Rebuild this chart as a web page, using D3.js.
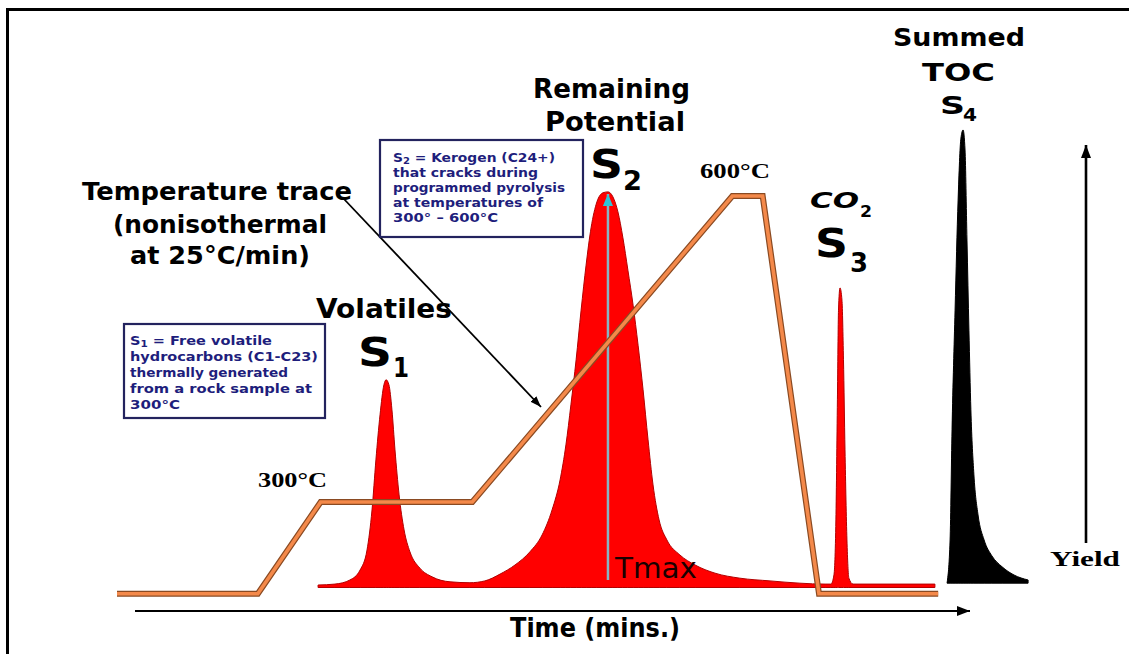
<!DOCTYPE html>
<html>
<head>
<meta charset="utf-8">
<script src="https://cdn.jsdelivr.net/npm/d3@7"></script>
<style>
  body { margin: 0; background: #fff; }
  svg { display: block; }
</style>
</head>
<body>
<svg id="chart" width="1129" height="654"></svg>
<script>
// Rock-Eval pyrolysis: oven programme (time in min, temperature in °C)
const tempTrace = [
  [0, 210], [6.5, 210], [9.4, 300], [16.4, 300],
  [28.4, 600], [29.8, 600], [32.4, 210], [37.9, 210]
];

// Detector response (relative yield) against time (min)
const s1Trace = [
  [9.28, 0.0], [10.06, 0.2], [10.75, 1.1], [11.22, 3.3], [11.54, 7.7],
  [11.77, 16.5], [11.95, 27.5], [12.14, 37.4], [12.32, 44.0], [12.42, 45.1],
  [12.55, 44.0], [12.69, 38.5], [12.83, 29.7], [13.02, 19.8], [13.25, 12.1],
  [13.52, 7.3], [13.98, 3.7], [14.54, 1.8], [15.37, 0.7], [16.29, 0.5]
];
const s2Trace = [
  [16.98, 0.9], [17.68, 2.4], [18.37, 4.4], [19.06, 7.3], [19.62, 11.0],
  [20.08, 16.5], [20.45, 23.1], [20.72, 30.8], [20.95, 39.6], [21.19, 49.5],
  [21.42, 60.4], [21.65, 70.3], [21.88, 78.5], [22.15, 84.2], [22.43, 86.2],
  [22.66, 86.4], [22.89, 85.3], [23.12, 82.0], [23.35, 76.3], [23.58, 69.2],
  [23.82, 61.5], [24.05, 52.7], [24.28, 42.9], [24.51, 31.9], [24.74, 22.0],
  [25.02, 14.3], [25.38, 9.9], [25.98, 6.6], [26.68, 4.4], [27.60, 2.6],
  [28.75, 1.5], [30.14, 0.9], [31.52, 0.4], [32.68, 0.2]
];
const s3Trace = [
  [32.95, 0.2], [33.09, 2.2], [33.18, 14.3], [33.25, 40.7], [33.30, 60.4],
  [33.37, 65.3], [33.46, 62.6], [33.53, 49.5], [33.60, 29.7], [33.69, 9.9],
  [33.78, 1.5], [33.97, 0.2], [37.75, 0.2]
];
const s4Trace = [
  [38.31, 0.4], [38.45, 9.9], [38.54, 34.1], [38.68, 60.4], [38.82, 84.6],
  [38.95, 98.2], [39.05, 100], [39.14, 95.6], [39.23, 75.8], [39.32, 56.0],
  [39.41, 38.5], [39.55, 24.2], [39.74, 15.4], [40.02, 9.9], [40.38, 6.4],
  [40.85, 4.0], [41.40, 2.2], [42.05, 1.1]
];
const tmaxTime = 22.66;
const tmaxYield = 86.4;

// Text blocks
const tempLabel = ["Temperature trace", "(nonisothermal", "at 25°C/min)"];
const s1Note = [["S", "1", " = Free volatile"], ["hydrocarbons (C1-C23)"], ["thermally generated"], ["from a rock sample at"], ["300°C"]];
const s2Note = [["S", "2", " = Kerogen (C24+)"], ["that cracks during"], ["programmed pyrolysis"], ["at temperatures of"], ["300° – 600°C"]];
const tempMarks = ["300°C", "600°C"];

const SANS = "'DejaVu Sans', 'Noto Sans', sans-serif";
const SERIF = "'Liberation Serif', 'DejaVu Serif', serif";

const svg = d3.select("#chart");

// Scales: shared time axis, temperature axis, yield axis
const x = d3.scaleLinear().domain([0, 42]).range([117, 1027]);
const yT = d3.scaleLinear().domain([300, 600]).range([502, 196]);
const yY = d3.scaleLinear().domain([0, 100]).range([585, 130]);

// Arrow markers
const defs = svg.append("defs");
function marker(id, color, w, h) {
  defs.append("marker")
    .attr("id", id).attr("viewBox", `0 0 ${w} ${h}`)
    .attr("refX", w).attr("refY", h / 2)
    .attr("markerUnits", "userSpaceOnUse")
    .attr("markerWidth", w).attr("markerHeight", h)
    .attr("orient", "auto")
    .append("path").attr("d", `M0,0L${w},${h / 2}L0,${h}Z`).attr("fill", color);
}
marker("arrowAxis", "#000", 13, 10);
marker("arrowThin", "#000", 11, 8);
marker("arrowCyan", "#2fc4d6", 12, 10);

// Frame
svg.append("rect").attr("x", 7.5).attr("y", 9.5).attr("width", 1200).attr("height", 700)
  .attr("fill", "none").attr("stroke", "#000").attr("stroke-width", 3);

// Red pyrogram: S1, S2 and S3 on one thin baseline
const redTrace = s1Trace.concat(s2Trace, s3Trace);
const area = d3.area().x(d => x(d[0])).y0(yY(-0.55)).y1(d => yY(d[1])).curve(d3.curveMonotoneX);
svg.append("path").datum(redTrace).attr("d", area)
  .attr("fill", "#ff0000").attr("stroke", "#b30000").attr("stroke-width", 1);

// S4 (summed TOC) in black
const area4 = d3.area().x(d => x(d[0])).y0(yY(0.4)).y1(d => yY(d[1])).curve(d3.curveMonotoneX);
svg.append("path").datum(s4Trace).attr("d", area4).attr("fill", "#000").attr("stroke", "#000").attr("stroke-width", 1);

// Tmax marker line
svg.append("line")
  .attr("x1", x(tmaxTime)).attr("x2", x(tmaxTime))
  .attr("y1", yY(1.1)).attr("y2", yY(tmaxYield) + 2)
  .attr("stroke", "#86b4c4").attr("stroke-width", 2.5)
  .attr("marker-end", "url(#arrowCyan)");

// Temperature trace: dark edge under an orange core
const tLine = d3.line().x(d => x(d[0])).y(d => yT(d[1]));
svg.append("path").datum(tempTrace).attr("d", tLine)
  .attr("fill", "none").attr("stroke", "#8a4a22").attr("stroke-width", 6).attr("stroke-linejoin", "miter");
svg.append("path").datum(tempTrace).attr("d", tLine)
  .attr("fill", "none").attr("stroke", "#f4894a").attr("stroke-width", 3.6).attr("stroke-linejoin", "miter");

// Axes drawn as arrows
svg.append("line").attr("x1", 135).attr("x2", 970).attr("y1", 611).attr("y2", 611)
  .attr("stroke", "#000").attr("stroke-width", 2.2).attr("marker-end", "url(#arrowAxis)");
svg.append("line").attr("x1", 1086).attr("x2", 1086).attr("y1", 543).attr("y2", 145)
  .attr("stroke", "#000").attr("stroke-width", 2.6).attr("marker-end", "url(#arrowAxis)");

// Pointer from the temperature caption to the trace
svg.append("line").attr("x1", 343).attr("y1", 198).attr("x2", 541).attr("y2", 407)
  .attr("stroke", "#000").attr("stroke-width", 1.8).attr("marker-end", "url(#arrowThin)");

// Text helper
function txt(str, px, py, o = {}) {
  const t = svg.append("text")
    .attr("x", px).attr("y", py)
    .attr("font-family", o.family || SANS)
    .attr("font-size", o.size || 20)
    .attr("font-weight", o.weight || "bold")
    .attr("font-style", o.style || "normal")
    .attr("fill", o.fill || "#000")
    .attr("text-anchor", o.anchor || "start")
    .text(str);
  if (o.len) t.attr("textLength", o.len).attr("lengthAdjust", "spacingAndGlyphs");
  return t;
}

// Temperature caption
txt(tempLabel[0], 217, 200, { size: 25, anchor: "middle", len: 270 });
txt(tempLabel[1], 220, 233, { size: 25, anchor: "middle", len: 214 });
txt(tempLabel[2], 220, 264, { size: 25, anchor: "middle", len: 180 });

// Temperature marks
txt(tempMarks[0], 258, 487, { family: SERIF, size: 21, weight: "bold", len: 69 });
txt(tempMarks[1], 700, 178, { family: SERIF, size: 21, weight: "bold", len: 70 });

// Peak labels
txt("Volatiles", 316, 318, { size: 26, len: 136 });
txt("S", 358, 366, { size: 39, len: 34 });
txt("1", 393, 377, { size: 26, len: 16 });

txt("Remaining", 533, 98, { size: 27, len: 157 });
txt("Potential", 545, 131, { size: 27, len: 140 });
txt("S", 590, 178, { size: 39, len: 33 });
txt("2", 623, 190, { size: 26, len: 19 });

txt("CO", 810, 208, { size: 21, style: "italic", len: 49 });
txt("2", 860, 217, { size: 15, len: 12 });
txt("S", 815, 257, { size: 39, len: 33 });
txt("3", 850, 272, { size: 26, len: 18 });

txt("Summed", 893, 46, { size: 25, len: 132 });
txt("TOC", 922, 81, { size: 25, len: 73 });
txt("S", 940, 114, { size: 25, len: 25 });
txt("4", 963, 121, { size: 17, len: 14 });

txt("Tmax", x(tmaxTime) + 7, 578, { size: 28, weight: "normal", fill: "#1a0000", len: 82 });

txt("Time (mins.)", 510, 637, { size: 26, len: 170 });
txt("Yield", 1050, 566, { family: SERIF, size: 22, len: 70 });

// Note boxes
function noteBox(lines, bx, by, bw, bh, tx, ty, lh, widths) {
  svg.append("rect").attr("x", bx).attr("y", by).attr("width", bw).attr("height", bh)
    .attr("fill", "#fff").attr("stroke", "#23235e").attr("stroke-width", 2.2);
  lines.forEach((ln, i) => {
    const t = svg.append("text")
      .attr("x", tx).attr("y", ty + i * lh)
      .attr("font-family", SANS).attr("font-size", 12.5).attr("font-weight", "bold")
      .attr("fill", "#1e1e7c")
      .attr("textLength", widths[i]).attr("lengthAdjust", "spacingAndGlyphs");
    if (ln.length === 3) {
      t.append("tspan").text(ln[0]);
      t.append("tspan").attr("dy", 2).attr("font-size", 9).text(ln[1]);
      t.append("tspan").attr("dy", -2).text(ln[2]);
    } else {
      t.text(ln[0]);
    }
  });
}
noteBox(s1Note, 124, 324, 201, 94, 130, 345, 16, [142, 188, 158, 182, 50]);
noteBox(s2Note, 380, 140, 203, 97, 393, 162, 15, [162, 145, 172, 150, 105]);
</script>
</body>
</html>
